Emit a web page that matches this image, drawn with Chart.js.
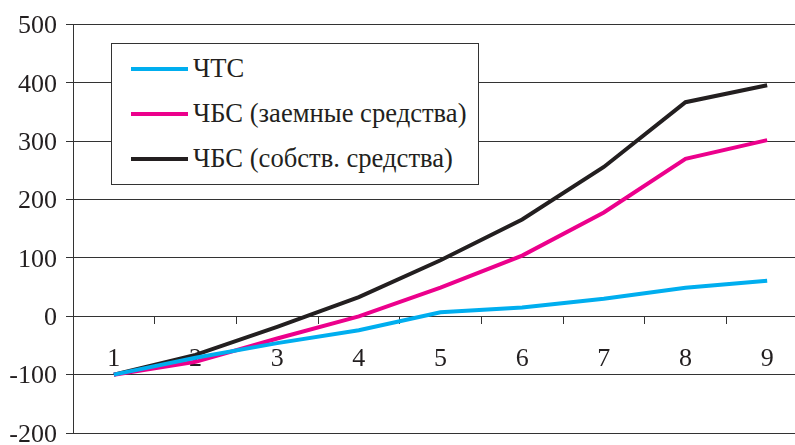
<!DOCTYPE html>
<html>
<head>
<meta charset="utf-8">
<script src="https://cdn.jsdelivr.net/npm/chart.js@4"></script>
<style>
  html, body { margin: 0; padding: 0; background: #fff; overflow: hidden; }
  #frame { position: relative; width: 795px; height: 445px; overflow: hidden; }
  #plot { position: absolute; left: 0; top: 0; }
  #legend {
    position: absolute; left: 111px; top: 43px; width: 368px; height: 142px;
    box-sizing: border-box; border: 1px solid #333; background: #fff;
    padding-top: 2px; font-family: "Liberation Serif", "DejaVu Serif", serif;
    font-size: 26.6px; color: #231f20;
  }
  .row { height: 45px; display: flex; align-items: center; padding-left: 19px; }
  .swatch { width: 57px; height: 4px; margin-right: 5px; }
</style>
</head>
<body>
<div id="frame">
  <canvas id="plot" width="812" height="460"></canvas>
  <div id="legend"></div>
</div>
<script>
// Periods on the category axis
const periods = ['1', '2', '3', '4', '5', '6', '7', '8', '9'];

// Series names
const seriesNames = ['ЧТС', 'ЧБС (заемные средства)', 'ЧБС (собств. средства)'];

// Cumulative values per period
const chtsValues = [-100, -71, -46, -24, 7, 15, 30, 49, 61];
const chbsBorrowed = [-100, -78, -38, 0, 49, 104, 178, 270, 302];
const chbsOwn = [-100, -66, -18, 33, 96, 166, 256, 367, 396];

// Value axis range and step
const yMin = -200;
const yMax = 500;
const yStep = 100;

const colors = ['#00aeef', '#ec008c', '#231f20'];
const serif = "'Liberation Serif', 'DejaVu Serif', serif";

const datasets = [chtsValues, chbsBorrowed, chbsOwn].map((vals, i) => ({
  label: seriesNames[i],
  data: vals,
  borderColor: colors[i],
  backgroundColor: colors[i],
  borderWidth: 4,
  pointRadius: 0,
  tension: 0,
  fill: false
}));

const chart = new Chart(document.getElementById('plot'), {
  type: 'line',
  data: { labels: periods, datasets },
  options: {
    responsive: false,
    animation: false,
    devicePixelRatio: 1,
    layout: { padding: { top: 21, right: 4, bottom: 27, left: 0 } },
    plugins: { legend: { display: false }, tooltip: { enabled: false } },
    scales: {
      x: {
        type: 'category',
        position: { y: 0 },
        offset: true,
        afterFit: (scale) => { scale.height = 0; },
        grid: {
          offset: true,
          drawOnChartArea: false,
          drawTicks: true,
          tickLength: 7,
          color: '#333',
          lineWidth: 1
        },
        border: { color: '#333', width: 1 },
        ticks: {
          padding: 20,
          maxRotation: 0,
          autoSkip: false,
          color: '#231f20',
          font: { family: serif, size: 26 }
        }
      },
      y: {
        min: yMin,
        max: yMax,
        afterFit: (scale) => { scale.width = 73; },
        grid: {
          color: '#333',
          lineWidth: 1,
          drawTicks: true,
          tickLength: 7
        },
        border: { color: '#333', width: 1 },
        ticks: {
          stepSize: yStep,
          padding: 9,
          labelOffset: 2,
          color: '#231f20',
          font: { family: serif, size: 26 }
        }
      }
    }
  }
});

// Framed legend built from the chart's datasets
const legendBox = document.getElementById('legend');
chart.data.datasets.forEach((ds) => {
  const row = document.createElement('div');
  row.className = 'row';
  const sw = document.createElement('span');
  sw.className = 'swatch';
  sw.style.background = ds.borderColor;
  const txt = document.createElement('span');
  txt.textContent = ds.label;
  row.appendChild(sw);
  row.appendChild(txt);
  legendBox.appendChild(row);
});
</script>
</body>
</html>
